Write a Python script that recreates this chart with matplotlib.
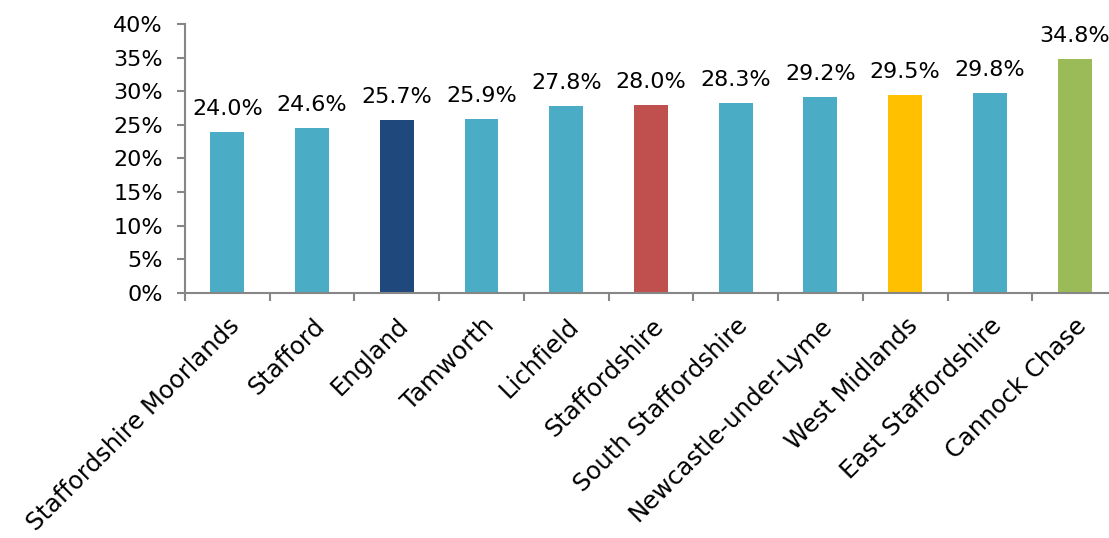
import matplotlib.pyplot as plt
from matplotlib.ticker import PercentFormatter

areas = ['Staffordshire Moorlands', 'Stafford', 'England', 'Tamworth', 'Lichfield',
         'Staffordshire', 'South Staffordshire', 'Newcastle-under-Lyme',
         'West Midlands', 'East Staffordshire', 'Cannock Chase']
values = [24.0, 24.6, 25.7, 25.9, 27.8, 28.0, 28.3, 29.2, 29.5, 29.8, 34.8]
colours = ['#4BACC6', '#4BACC6', '#1F497D', '#4BACC6', '#4BACC6', '#C0504D',
           '#4BACC6', '#4BACC6', '#FFC000', '#4BACC6', '#9BBB59']

plt.rcParams['font.family'] = ['DejaVu Sans']

fig = plt.figure(figsize=(11.09, 5.38), dpi=100)
ax = fig.add_axes([0.1668, 0.4554, 0.8404, 0.5])

x = range(len(areas))
ax.bar(x, values, width=0.4, color=colours)

for i, v in enumerate(values):
    ax.text(i, v + 1.9, f'{v:.1f}%', ha='center', va='bottom', fontsize=16)

ax.set_xlim(-0.5, len(areas) - 0.5)
ax.set_ylim(0, 40)
ax.set_yticks(range(0, 41, 5))
ax.yaxis.set_major_formatter(PercentFormatter(decimals=0))

# ticks on the category boundaries
ax.set_xticks([i - 0.5 for i in range(len(areas) + 1)], minor=True)
ax.set_xticks(list(x))
ax.set_xticklabels(areas, rotation=45, ha='right', rotation_mode='anchor', fontsize=17.5)
ax.tick_params(axis='x', which='major', length=0, pad=15)
ax.tick_params(axis='x', which='minor', length=6, color='#868686', width=1.5)
ax.tick_params(axis='y', length=6, color='#868686', width=1.5, labelsize=16, pad=10)

for side in ['top', 'right']:
    ax.spines[side].set_visible(False)
for side in ['left', 'bottom']:
    ax.spines[side].set_color('#868686')
    ax.spines[side].set_linewidth(1.5)

fig.savefig('out.png', dpi=100)
